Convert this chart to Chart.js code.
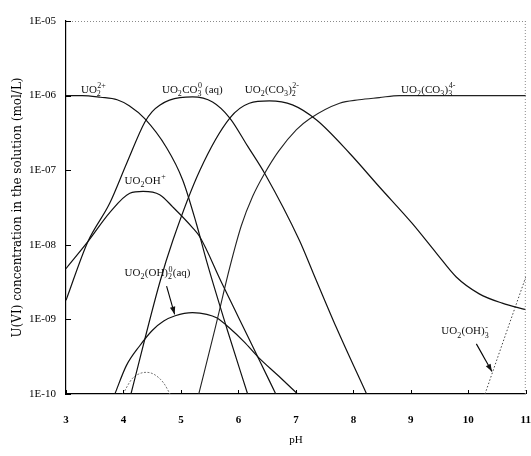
<!DOCTYPE html>
<html>
<head>
<meta charset="utf-8">
<script src="https://cdn.jsdelivr.net/npm/chart.js@4/dist/chart.umd.min.js"></script>
<style>
  html, body { margin: 0; padding: 0; background: #fff; }
  canvas { display: block; }
</style>
</head>
<body>
<canvas id="speciation" width="531" height="456"></canvas>
<script>
// U(VI) speciation vs pH
const xTicks = [3, 4, 5, 6, 7, 8, 9, 10, 11];
const yTicks = [1e-10, 1e-9, 1e-8, 1e-7, 1e-6, 1e-5];
const yTickLabels = ['1E-10', '1E-09', '1E-08', '1E-07', '1E-06', '1E-05'];

const phUO2 = [3.0, 3.28, 3.6, 3.89, 4.1, 4.37, 4.75, 5.03, 5.27, 5.45, 5.8, 6.16];
const cUO2  = [1.0e-6, 1.0e-6, 9.5e-7, 8.8e-7, 7.3e-7, 4.9e-7, 2.0e-7, 7.4e-8, 1.9e-8, 5.9e-9, 7.5e-10, 1e-10];

const phUO2OH = [3.0, 3.38, 3.76, 4.11, 4.34, 4.63, 4.86, 5.2, 5.33, 5.7, 6.0, 6.35, 6.65];
const cUO2OH  = [4.8e-9, 1.1e-8, 2.7e-8, 4.9e-8, 5.2e-8, 4.7e-8, 3.2e-8, 1.7e-8, 1.27e-8, 3.2e-9, 1.07e-9, 3.0e-10, 1e-10];

const phUO2CO3 = [3.0, 3.38, 3.76, 4.06, 4.37, 4.5, 4.63, 4.8, 5.2, 5.55, 5.85, 6.16, 6.47, 7.06, 7.3, 7.7, 8.23];
const cUO2CO3  = [1.8e-9, 1.1e-8, 3.6e-8, 1.26e-7, 4.4e-7, 6.1e-7, 7.4e-7, 8.7e-7, 9.6e-7, 8.2e-7, 5.0e-7, 2.1e-7, 8.7e-8, 1.15e-8, 4.2e-9, 7.9e-10, 1e-10];

const phDiCarb = [4.13, 4.63, 4.86, 5.33, 5.85, 6.19, 6.54, 6.94, 7.36, 7.93, 8.45, 9.02, 9.44, 9.79, 10.19, 10.59, 11.0];
const cDiCarb  = [1e-10, 3.1e-9, 1.15e-8, 1.0e-7, 5.0e-7, 7.9e-7, 8.5e-7, 7.5e-7, 4.7e-7, 1.7e-7, 6.0e-8, 1.95e-8, 7.8e-9, 3.7e-9, 2.2e-9, 1.65e-9, 1.35e-9];

const phTriCarb = [5.31, 5.6, 5.85, 6.05, 6.25, 6.45, 6.7, 7.01, 7.24, 7.76, 8.1, 8.45, 8.8, 9.5, 10.5, 11.0];
const cTriCarb  = [1e-10, 7.9e-10, 5.0e-9, 1.8e-8, 4.5e-8, 8.9e-8, 1.8e-7, 3.5e-7, 4.9e-7, 7.9e-7, 8.8e-7, 9.4e-7, 1.0e-6, 1.0e-6, 1.0e-6, 1.0e-6];

const phOH2 = [3.85, 4.05, 4.28, 4.5, 4.7, 4.9, 5.2, 5.45, 5.62, 5.85, 6.1, 6.33, 6.7, 7.03];
const cOH2  = [1e-10, 2.4e-10, 4.4e-10, 7.1e-10, 9.5e-10, 1.12e-9, 1.23e-9, 1.17e-9, 1.05e-9, 7.6e-10, 5.0e-10, 3.2e-10, 1.74e-10, 1e-10];

const phSmall = [3.99, 4.15, 4.3, 4.41, 4.55, 4.7, 4.81];
const cSmall  = [1e-10, 1.6e-10, 1.9e-10, 1.95e-10, 1.8e-10, 1.4e-10, 1e-10];

const phOH3 = [10.29, 10.65, 11.0];
const cOH3  = [1e-10, 6.3e-10, 3.7e-9];

// species labels: anchor (pH, conc) = left end of text baseline
const labelPh = [3.26, 4.67, 6.11, 8.83, 4.02, 4.02, 9.53];
const labelC  = [1.1e-6, 1.1e-6, 1.1e-6, 1.1e-6, 6.6e-8, 3.8e-9, 6.3e-10];
const labelParts = [
  [{t:'UO'}, {sub:'2', sup:'2+'}],
  [{t:'UO'}, {sub:'2'}, {t:'CO'}, {sub:'3', sup:'0'}, {t:' (aq)'}],
  [{t:'UO'}, {sub:'2'}, {t:'(CO'}, {sub:'3'}, {t:')'}, {sub:'2', sup:'2-'}],
  [{t:'UO'}, {sub:'2'}, {t:'(CO'}, {sub:'3'}, {t:')'}, {sub:'3', sup:'4-'}],
  [{t:'UO'}, {sub:'2'}, {t:'OH'}, {sup:'+'}],
  [{t:'UO'}, {sub:'2'}, {t:'(OH)'}, {sub:'2', sup:'0'}, {t:'(aq)'}],
  [{t:'UO'}, {sub:'2'}, {t:'(OH)'}, {sub:'3', sup:'-'}]
];

// arrows: from label to curve
const arrowFrom = [[4.75, 2.8e-9], [10.14, 4.7e-10]];
const arrowTo   = [[4.89, 1.17e-9], [10.41, 2.0e-10]];

const SERIF = '"Liberation Serif", "Times New Roman", serif';
const WIDE_SERIF = '"DejaVu Serif", serif';

const pts = (xs, ys) => xs.map((x, i) => ({x: x, y: ys[i]}));
const line = (xs, ys, extra) => Object.assign({
  data: pts(xs, ys), borderColor: '#111', borderWidth: 1.2, pointRadius: 0,
  fill: false, cubicInterpolationMode: 'monotone'
}, extra || {});

function drawFormula(ctx, parts, x, y, size) {
  ctx.textBaseline = 'alphabetic';
  ctx.textAlign = 'left';
  parts.forEach(p => {
    if (p.t) {
      ctx.font = size + 'px ' + SERIF;
      ctx.fillText(p.t, x, y);
      x += ctx.measureText(p.t).width;
    } else {
      const fs = Math.round(size * 0.7);
      ctx.font = fs + 'px ' + SERIF;
      let w = 0;
      if (p.sub) { ctx.fillText(p.sub, x, y + size * 0.3); w = ctx.measureText(p.sub).width; }
      if (p.sup) { ctx.fillText(p.sup, x + 0.5, y - size * 0.42); w = Math.max(w, ctx.measureText(p.sup).width + 0.5); }
      x += w + 0.3;
    }
  });
}

const decorations = {
  id: 'decorations',
  afterDatasetsDraw(chart) {
    const {ctx, chartArea: a, scales: {x, y}} = chart;
    ctx.save();
    // dotted top/right frame
    ctx.strokeStyle = '#8a8a8a';
    ctx.lineWidth = 1;
    ctx.setLineDash([1, 2]);
    ctx.beginPath();
    ctx.moveTo(a.left, a.top + 0.5); ctx.lineTo(a.right, a.top + 0.5);
    ctx.moveTo(a.right - 0.5, a.top); ctx.lineTo(a.right - 0.5, a.bottom);
    ctx.stroke();
    ctx.setLineDash([]);
    // inward tick marks
    ctx.strokeStyle = '#000';
    ctx.beginPath();
    xTicks.forEach(v => {
      const px = Math.round(x.getPixelForValue(v)) + 0.5;
      ctx.moveTo(px, a.bottom); ctx.lineTo(px, a.bottom - 4);
    });
    yTicks.forEach(v => {
      const py = Math.round(y.getPixelForValue(v)) + 0.5;
      ctx.moveTo(a.left, py); ctx.lineTo(a.left + 5, py);
    });
    ctx.stroke();
    // species labels
    ctx.fillStyle = '#111';
    labelParts.forEach((parts, i) => {
      drawFormula(ctx, parts, x.getPixelForValue(labelPh[i]), y.getPixelForValue(labelC[i]), 11);
    });
    // arrows
    ctx.lineWidth = 1.1;
    arrowFrom.forEach((f, i) => {
      const x0 = x.getPixelForValue(f[0]), y0 = y.getPixelForValue(f[1]);
      const x1 = x.getPixelForValue(arrowTo[i][0]), y1 = y.getPixelForValue(arrowTo[i][1]);
      const ang = Math.atan2(y1 - y0, x1 - x0);
      ctx.beginPath(); ctx.moveTo(x0, y0); ctx.lineTo(x1, y1); ctx.stroke();
      ctx.beginPath();
      ctx.moveTo(x1, y1);
      ctx.lineTo(x1 - 8 * Math.cos(ang - 0.35), y1 - 8 * Math.sin(ang - 0.35));
      ctx.lineTo(x1 - 8 * Math.cos(ang + 0.35), y1 - 8 * Math.sin(ang + 0.35));
      ctx.closePath(); ctx.fill();
    });
    ctx.restore();
  }
};

new Chart(document.getElementById('speciation'), {
  type: 'line',
  data: {
    datasets: [
      line(phUO2, cUO2),
      line(phUO2OH, cUO2OH),
      line(phUO2CO3, cUO2CO3),
      line(phDiCarb, cDiCarb),
      line(phTriCarb, cTriCarb, {borderWidth: 1.1, borderColor: '#222'}),
      line(phOH2, cOH2),
      line(phSmall, cSmall, {borderColor: '#777', borderWidth: 1, borderDash: [2, 1.5]}),
      line(phOH3, cOH3, {borderColor: '#444', borderWidth: 1, borderDash: [1.5, 2]})
    ]
  },
  options: {
    responsive: false,
    animation: false,
    events: [],
    layout: { padding: { top: 21, right: 4, left: 0, bottom: 0 } },
    plugins: { legend: { display: false }, tooltip: { enabled: false } },
    scales: {
      x: {
        type: 'linear', min: 3, max: 11,
        afterBuildTicks: s => { s.ticks = xTicks.map(v => ({value: v})); },
        afterFit: s => { s.height = 62; },
        grid: { display: false, drawTicks: true, tickLength: 20 },
        border: { display: true, color: '#000', width: 1.2 },
        ticks: { color: '#000', padding: 0, maxRotation: 0, font: { family: SERIF, size: 11, weight: 'bold' } },
        title: { display: true, text: 'pH', color: '#000', padding: { top: 0, bottom: 9 }, font: { family: SERIF, size: 11 } }
      },
      y: {
        type: 'logarithmic', min: 1e-10, max: 1e-5,
        afterBuildTicks: s => { s.ticks = yTicks.map(v => ({value: v})); },
        afterFit: s => { s.width = 66; },
        grid: { display: false, drawTicks: true, tickLength: 10 },
        border: { display: true, color: '#000', width: 1.2 },
        ticks: {
          color: '#000', padding: 0, font: { family: SERIF, size: 11 },
          callback: v => yTickLabels[yTicks.findIndex(t => Math.abs(Math.log10(t) - Math.log10(v)) < 1e-6)] || ''
        },
        title: { display: true, text: 'U(VI) concentration in the solution (mol/L)', color: '#000', padding: { top: 11, bottom: 0 }, font: { family: WIDE_SERIF, size: 12 } }
      }
    }
  },
  plugins: [decorations]
});
</script>
</body>
</html>
